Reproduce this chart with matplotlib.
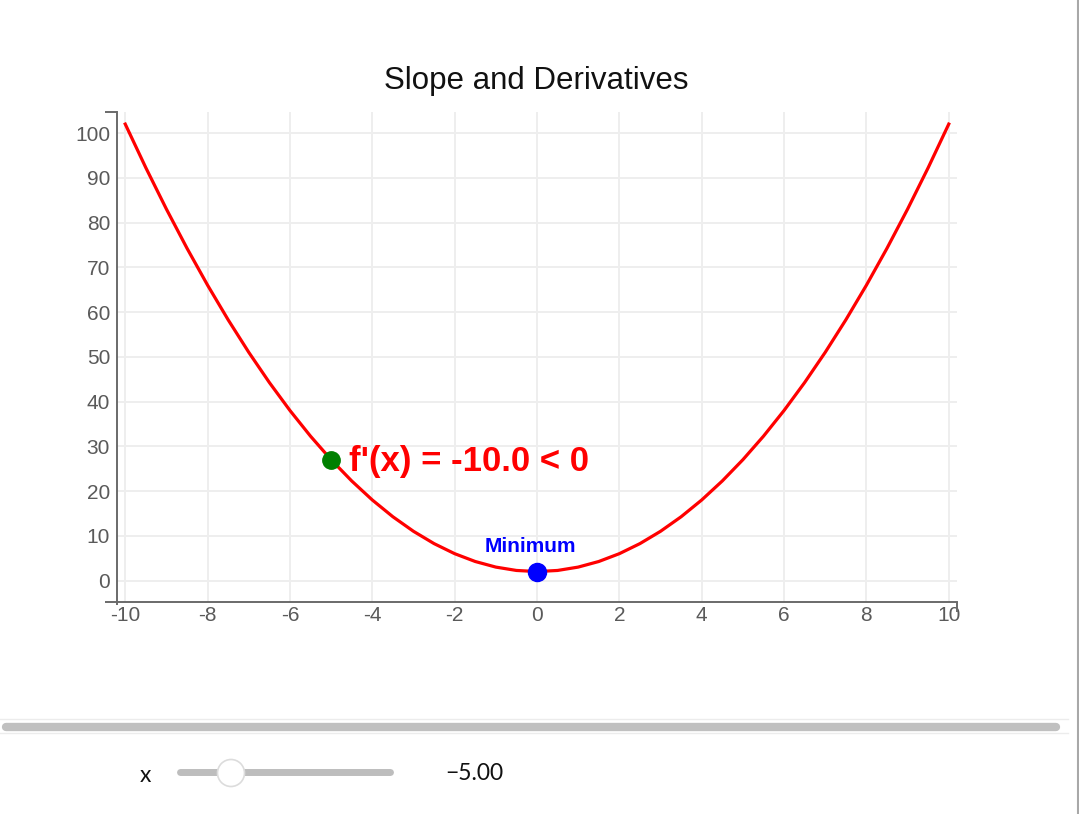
import numpy as np
import matplotlib
matplotlib.use("Agg")
import matplotlib.pyplot as plt
from matplotlib.patches import Circle

# curve values (x step 0.5)
curve_x = [-10, -9.5, -9, -8.5, -8, -7.5, -7, -6.5, -6, -5.5, -5, -4.5, -4, -3.5, -3, -2.5, -2, -1.5, -1, -0.5,
           0, 0.5, 1, 1.5, 2, 2.5, 3, 3.5, 4, 4.5, 5, 5.5, 6, 6.5, 7, 7.5, 8, 8.5, 9, 9.5, 10]
curve_y = [102, 92.25, 83, 74.25, 66, 58.25, 51, 44.25, 38, 32.25, 27, 22.25, 18, 14.25, 11, 8.25, 6, 4.25, 3, 2.25,
           2, 2.25, 3, 4.25, 6, 8.25, 11, 14.25, 18, 22.25, 27, 32.25, 38, 44.25, 51, 58.25, 66, 74.25, 83, 92.25, 102]

point_x = -5.0
point_y = 27.0
slope_label = "f'(x) = -10.0 < 0"
min_x = 0.0
min_y = 2.0
min_label = "Minimum"

x_ticks = [-10, -8, -6, -4, -2, 0, 2, 4, 6, 8, 10]
y_ticks = [0, 10, 20, 30, 40, 50, 60, 70, 80, 90, 100]

slider_min, slider_max = -10, 10
slider_value = -5.0

W, H = 1079, 814
plt.rcParams["font.family"] = ["Liberation Sans", "DejaVu Sans"]
plt.rcParams["axes.unicode_minus"] = False
fig = plt.figure(figsize=(W / 100, H / 100), dpi=100)
fig.patch.set_facecolor("white")

# background overlay in pixel coords (slider widget, borders)
bg = fig.add_axes([0, 0, 1, 1], zorder=-1)
bg.set_xlim(0, W)
bg.set_ylim(H, 0)
bg.axis("off")

bg.plot([1077.5, 1077.5], [0, H], color="#a8a8a8", lw=1.5)
bg.plot([0, 1068], [719, 719], color="#ececec", lw=1)
bg.plot([0, 1068], [733, 733], color="#ececec", lw=1)
bg.plot([6, 1056], [726.5, 726.5], color="#c0c0c0", lw=6, solid_capstyle="round")

track_l, track_r = 180, 390
bg.plot([track_l, track_r], [772, 772], color="#bdbdbd", lw=5, solid_capstyle="round")
knob_x = track_l - 3 + (track_r - track_l + 6) * (slider_value - slider_min) / (slider_max - slider_min)
bg.add_patch(Circle((knob_x, 773), 13.5, facecolor="white", edgecolor="#dcdcdc", lw=1.2, zorder=3))
bg.text(145, 775, "x", fontsize=16.5, family="Lato", ha="center", va="center", color="#111111")
bg.text(445, 773, "\u2212%.2f" % abs(slider_value), fontsize=16.5, family="Lato", ha="left", va="center",
        color="#111111")

# main chart
ax = fig.add_axes([117 / W, 1 - 602 / H, 840 / W, 490 / H])
ax.set_xlim(-10.2, 10.2)
ax.set_ylim(-4.8, 104.7)

ax.set_xticks(x_ticks)
ax.set_yticks(y_ticks)
ax.grid(True, color="#eeeeee", lw=1.4)
ax.set_axisbelow(True)
ax.tick_params(length=0, labelsize=15, labelcolor="#5a5a5a")
ax.tick_params(axis="y", pad=5)
ax.tick_params(axis="x", pad=3)

for s in ["top", "right"]:
    ax.spines[s].set_visible(False)
for s in ["left", "bottom"]:
    ax.spines[s].set_color("#6a6a6a")
    ax.spines[s].set_linewidth(1.4)

# little end stubs on the axis lines
stub = dict(color="#6a6a6a", lw=1.4, transform=ax.transAxes, clip_on=False, solid_capstyle="butt")
ax.plot([-12 / 840, 0], [1, 1], **stub)
ax.plot([-12 / 840, 0], [0, 0], **stub)
ax.plot([0, 0], [0, -3 / 490], **stub)
ax.plot([1, 1], [0, -10 / 490], **stub)

ax.plot(curve_x, curve_y, color="red", lw=2.3, zorder=3)
ax.plot([point_x], [point_y], "o", color="green", ms=12.5, zorder=4)
ax.plot([min_x], [min_y], "o", color="blue", ms=13, zorder=4)

ax.annotate(slope_label, (point_x, point_y), xytext=(13, -8), textcoords="offset points",
            ha="left", va="baseline", fontsize=25, fontweight="bold", color="red")
ax.annotate(min_label, (min_x, min_y), xytext=(-4.7, 14.3), textcoords="offset points",
            ha="center", va="baseline", fontsize=15, fontweight="bold", color="blue")

fig.text(536 / W, 1 - 89 / H, "Slope and Derivatives", ha="center", va="baseline", fontsize=22.5, color="#111111")

fig.savefig("out.png", dpi=100)
